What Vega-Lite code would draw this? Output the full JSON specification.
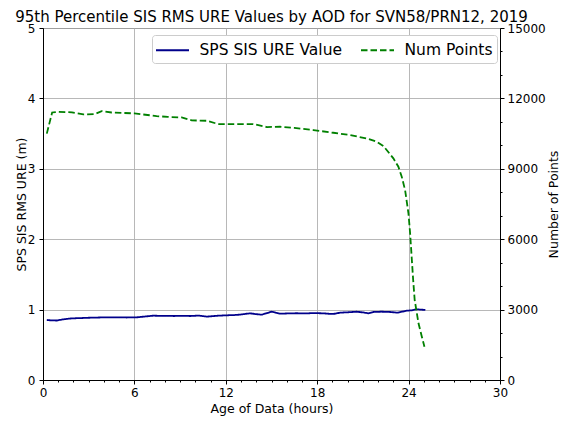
{
  "$schema": "https://vega.github.io/schema/vega-lite/v6.json",
  "width": 457,
  "height": 352,
  "autosize": "none",
  "padding": {"left": 43, "top": 28, "right": 68, "bottom": 43},
  "background": "white",
  "config": {
    "font": "DejaVu Sans",
    "view": {"stroke": "black", "strokeWidth": 1},
    "axis": {"labelColor": "black", "titleColor": "black", "labelFontSize": 12, "titleFontSize": 12.5, "titleFontWeight": "normal", "tickColor": "black", "domainColor": "black", "tickSize": 4, "gridColor": "#b0b0b0", "gridWidth": 0.9, "labelFlush": false, "labelOverlap": false}
  },
  "title": {"text": "95th Percentile SIS RMS URE Values by AOD for SVN58/PRN12, 2019", "fontSize": 15, "fontWeight": "normal", "color": "black", "offset": -3, "anchor": "middle"},
  "datasets": {
    "ure": [
      {"aod": 0.25, "v": 0.852}, {"aod": 0.5, "v": 0.848}, {"aod": 0.9, "v": 0.845}, {"aod": 1.3, "v": 0.86}, {"aod": 1.7, "v": 0.872}, {"aod": 2.0, "v": 0.876}, {"aod": 2.5, "v": 0.88}, {"aod": 3.0, "v": 0.884}, {"aod": 3.5, "v": 0.887}, {"aod": 4.2, "v": 0.89}, {"aod": 5.0, "v": 0.89}, {"aod": 5.5, "v": 0.888}, {"aod": 6.15, "v": 0.89}, {"aod": 6.6, "v": 0.9}, {"aod": 7.24, "v": 0.914}, {"aod": 7.8, "v": 0.91}, {"aod": 8.2, "v": 0.912}, {"aod": 8.56, "v": 0.909}, {"aod": 9.1, "v": 0.912}, {"aod": 9.65, "v": 0.909}, {"aod": 10.2, "v": 0.915}, {"aod": 10.75, "v": 0.9}, {"aod": 11.4, "v": 0.912}, {"aod": 12.06, "v": 0.919}, {"aod": 12.5, "v": 0.922}, {"aod": 12.93, "v": 0.928}, {"aod": 13.3, "v": 0.94}, {"aod": 13.6, "v": 0.947}, {"aod": 14.0, "v": 0.935}, {"aod": 14.36, "v": 0.928}, {"aod": 14.7, "v": 0.95}, {"aod": 15.0, "v": 0.97}, {"aod": 15.3, "v": 0.955}, {"aod": 15.56, "v": 0.942}, {"aod": 16.0, "v": 0.945}, {"aod": 16.6, "v": 0.948}, {"aod": 17.3, "v": 0.947}, {"aod": 17.8, "v": 0.95}, {"aod": 18.4, "v": 0.947}, {"aod": 18.8, "v": 0.94}, {"aod": 19.06, "v": 0.938}, {"aod": 19.5, "v": 0.956}, {"aod": 20.0, "v": 0.962}, {"aod": 20.6, "v": 0.97}, {"aod": 21.0, "v": 0.96}, {"aod": 21.36, "v": 0.947}, {"aod": 21.7, "v": 0.966}, {"aod": 22.2, "v": 0.97}, {"aod": 22.8, "v": 0.966}, {"aod": 23.3, "v": 0.956}, {"aod": 23.6, "v": 0.972}, {"aod": 23.9, "v": 0.985}, {"aod": 24.2, "v": 0.99}, {"aod": 24.5, "v": 1.004}, {"aod": 24.8, "v": 1.0}, {"aod": 25.1, "v": 0.995}
    ],
    "num": [
      {"aod": 0.25, "n": 10500}, {"aod": 0.6, "n": 11400}, {"aod": 1.0, "n": 11430}, {"aod": 1.9, "n": 11404}, {"aod": 2.65, "n": 11318}, {"aod": 3.4, "n": 11330}, {"aod": 3.85, "n": 11460}, {"aod": 4.5, "n": 11400}, {"aod": 6.0, "n": 11360}, {"aod": 7.46, "n": 11246}, {"aod": 8.2, "n": 11210}, {"aod": 9.1, "n": 11190}, {"aod": 9.76, "n": 11063}, {"aod": 10.75, "n": 11047}, {"aod": 11.5, "n": 10906}, {"aod": 13.8, "n": 10906}, {"aod": 14.7, "n": 10778}, {"aod": 15.56, "n": 10792}, {"aod": 16.5, "n": 10740}, {"aod": 17.75, "n": 10650}, {"aod": 19.06, "n": 10536}, {"aod": 20.16, "n": 10437}, {"aod": 21.25, "n": 10295}, {"aod": 21.91, "n": 10153}, {"aod": 22.35, "n": 9970}, {"aod": 23.0, "n": 9444}, {"aod": 23.33, "n": 9088}, {"aod": 23.55, "n": 8662}, {"aod": 23.77, "n": 8094}, {"aod": 23.99, "n": 7100}, {"aod": 24.1, "n": 6250}, {"aod": 24.2, "n": 5250}, {"aod": 24.3, "n": 4260}, {"aod": 24.4, "n": 3408}, {"aod": 24.65, "n": 2415}, {"aod": 24.87, "n": 1845}, {"aod": 25.04, "n": 1420}
    ]
  },
  "layer": [
    {
      "data": {"name": "ure"},
      "mark": {"type": "line", "strokeWidth": 1.8, "interpolate": "linear"},
      "encoding": {
        "x": {"field": "aod", "type": "quantitative", "scale": {"domain": [0, 30], "nice": false, "zero": false}, "axis": {"title": "Age of Data (hours)", "values": [0,1,2,3,4,5,6,7,8,9,10,11,12,13,14,15,16,17,18,19,20,21,22,23,24,25,26,27,28,29,30], "tickCount": 100, "format": "d", "labelExpr": "datum.value % 6 === 0 ? datum.label : ''", "tickSize": {"condition": {"test": "datum.value % 6 === 0", "value": 4}, "value": 2}, "gridOpacity": {"condition": {"test": "datum.value % 6 === 0", "value": 1}, "value": 0}, "grid": true, "labelPadding": 3, "titlePadding": 4}},
        "y": {"field": "v", "type": "quantitative", "scale": {"domain": [0, 5], "nice": false}, "axis": {"title": "SPS SIS RMS URE (m)", "values": [0, 1, 2, 3, 4, 5], "format": "d", "grid": true, "labelPadding": 4, "titlePadding": -1}},
        "color": {"datum": "SPS SIS URE Value", "type": "nominal", "scale": {"domain": ["SPS SIS URE Value", "Num Points"], "range": ["#00008b", "#008000"]}, "legend": {"title": null, "orient": "none", "legendX": 109, "legendY": 7, "direction": "horizontal", "columns": 2, "labelFontSize": 15.5, "labelColor": "black", "symbolType": "M-1.65,0H1.65", "symbolSize": 400, "symbolOffset": 5.5, "symbolStrokeWidth": 2, "fillColor": "white", "strokeColor": "#cccccc", "cornerRadius": 3, "padding": 4, "columnPadding": 14, "labelOffset": 16}},
        "strokeDash": {"datum": "SPS SIS URE Value", "type": "nominal", "scale": {"domain": ["SPS SIS URE Value", "Num Points"], "range": [[1, 0], [6.5, 3]]}, "legend": null}
      }
    },
    {
      "data": {"name": "num"},
      "mark": {"type": "line", "strokeWidth": 1.8, "interpolate": "linear"},
      "encoding": {
        "x": {"field": "aod", "type": "quantitative", "scale": {"domain": [0, 30], "nice": false, "zero": false}},
        "y": {"field": "n", "type": "quantitative", "scale": {"domain": [0, 15000], "nice": false}, "axis": {"orient": "right", "title": "Number of Points", "titleAngle": 270, "titleBaseline": "top", "values": [0, 1000, 2000, 3000, 4000, 5000, 6000, 7000, 8000, 9000, 10000, 11000, 12000, 13000, 14000, 15000], "tickCount": 100, "labelExpr": "datum.value % 3000 === 0 ? datum.label : ''", "format": "d", "tickSize": {"condition": {"test": "datum.value % 3000 === 0", "value": 4}, "value": 2}, "grid": false, "labelPadding": 3, "titlePadding": 2}},
        "color": {"datum": "Num Points", "type": "nominal"},
        "strokeDash": {"datum": "Num Points", "type": "nominal"}
      }
    }
  ],
  "resolve": {"scale": {"y": "independent"}}
}
